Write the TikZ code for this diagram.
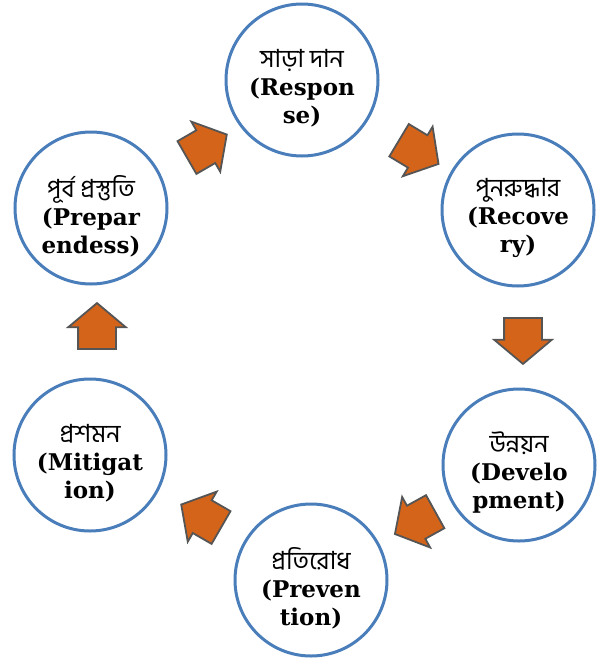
\documentclass[tikz,border=0pt]{standalone}
\usepackage{fontspec}
\newfontfamily\bnfont[Script=Bengali]{Hind Siliguri}
\newfontfamily\enfont{DejaVu Serif}
\usetikzlibrary{shapes.arrows}
\definecolor{rim}{RGB}{74,126,187}
\definecolor{arrfill}{RGB}{212,100,26}
\definecolor{arrline}{RGB}{85,85,85}
\tikzset{
  phase/.style={circle, draw=rim, line width=3pt, fill=white, minimum size=152pt, inner sep=0pt},
  phasetext/.style={inner sep=0pt, align=center, font=\fontsize{23}{28}\selectfont\enfont\bfseries},
  blockarrow/.style={single arrow, draw=arrline, line width=1.8pt, fill=arrfill,
    minimum height=46pt, inner xsep=0pt, inner ysep=18pt,
    single arrow head extend=10pt, single arrow tip angle=100, anchor=center}
}
\newcommand{\bnl}[1]{{\fontsize{25}{30}\selectfont\bnfont\mdseries #1}}
\begin{document}
\begin{tikzpicture}[x=1pt,y=-1pt]
\useasboundingbox (0,0) rectangle (601,667);
\node[phase] (resp) at (302,80) {};
\node[phase] (rec) at (518,210) {};
\node[phase] (dev) at (519,465) {};
\node[phase] (prev) at (311,580) {};
\node[phase] (mit) at (90,455) {};
\node[phase] (prep) at (91,208) {};
\node[phasetext] (resp-t) at ([yshift=-8pt]resp.center) {\bnl{সাড়া দান}\\(Respon\\se)};
\node[phasetext] (rec-t) at ([yshift=-8pt]rec.center) {\bnl{পুনরুদ্ধার}\\(Recove\\ry)};
\node[phasetext] (dev-t) at ([yshift=-8pt]dev.center) {\bnl{উন্নয়ন}\\(Develo\\pment)};
\node[phasetext] (prev-t) at ([yshift=-8pt]prev.center) {\bnl{প্রতিরোধ}\\(Preven\\tion)};
\node[phasetext] (mit-t) at ([yshift=-8pt]mit.center) {\bnl{প্রশমন}\\(Mitigat\\ion)};
\node[phasetext] (prep-t) at ([yshift=-8pt]prep.center) {\bnl{পূর্ব প্রস্তুতি}\\(Prepar\\endess)};
\node[blockarrow, rotate=30] (a1) at (200,150) {};
\node[blockarrow, rotate=-31] (a2) at (412,148) {};
\node[blockarrow, rotate=-90] (a3) at (523,333) {};
\node[blockarrow, rotate=-151] (a4) at (422,519) {};
\node[blockarrow, rotate=150] (a5) at (208,520) {};
\node[blockarrow, rotate=90] (a6) at (97,334) {};
\end{tikzpicture}
\end{document}
